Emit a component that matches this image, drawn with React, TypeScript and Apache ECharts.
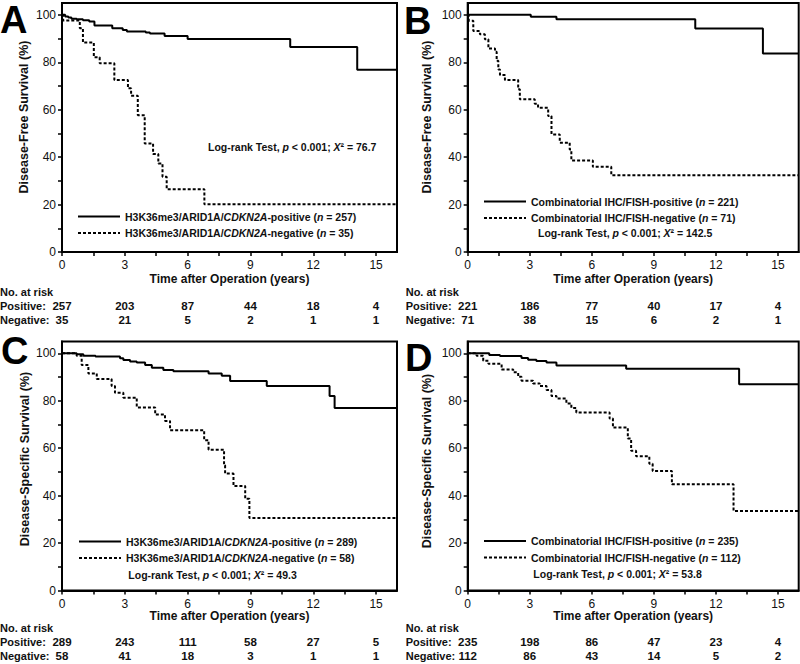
import React, { useEffect, useRef } from "react";
import * as echarts from "echarts";

// ---------- data ----------
const timeLabelTicks = [0, 3, 6, 9, 12, 15];
const timeTicks = [0, 1.5, 3, 4.5, 6, 7.5, 9, 10.5, 12, 13.5, 15];
const survLabelTicks = [0, 20, 40, 60, 80, 100];
const survTicks = [0, 10, 20, 30, 40, 50, 60, 70, 80, 90, 100];

const nameA1 = "H3K36me3/ARID1A/CDKN2A-positive (n = 257)";
const nameA2 = "H3K36me3/ARID1A/CDKN2A-negative (n = 35)";
const nameB1 = "Combinatorial IHC/FISH-positive (n = 221)";
const nameB2 = "Combinatorial IHC/FISH-negative (n = 71)";
const nameC1 = "H3K36me3/ARID1A/CDKN2A-positive (n = 289)";
const nameC2 = "H3K36me3/ARID1A/CDKN2A-negative (n = 58)";
const nameD1 = "Combinatorial IHC/FISH-positive (n = 235)";
const nameD2 = "Combinatorial IHC/FISH-negative (n = 112)";

const riskPosA = [257, 203, 87, 44, 18, 4];
const riskNegA = [35, 21, 5, 2, 1, 1];
const riskPosB = [221, 186, 77, 40, 17, 4];
const riskNegB = [71, 38, 15, 6, 2, 1];
const riskPosC = [289, 243, 111, 58, 27, 5];
const riskNegC = [58, 41, 18, 3, 1, 1];
const riskPosD = [235, 198, 86, 47, 23, 4];
const riskNegD = [112, 86, 43, 14, 5, 2];

const statA = "Log-rank Test, {i|p} < 0.001; {i|X}² = 76.7";
const statB = "Log-rank Test, {i|p} < 0.001; {i|X}² = 142.5";
const statC = "Log-rank Test, {i|p} < 0.001; {i|X}² = 49.3";
const statD = "Log-rank Test, {i|p} < 0.001; {i|X}² = 53.8";

// Kaplan–Meier steps: [time (years), survival % after the event]
const kmPosA = [
  [0, 100], [0.15, 99.3], [0.3, 98.9], [0.45, 98.4], [0.7, 98.1], [1.0, 97.7],
  [1.3, 97.2], [1.55, 95.5], [2.4, 94.3], [2.9, 93.6], [3.1, 93.0], [4.0, 92.6],
  [4.2, 92.1], [4.9, 91.1], [6.0, 89.8], [10.9, 86.4], [14.1, 76.8], [16, 76.8],
];
const kmNegA = [
  [0, 100], [0.05, 97.6], [0.85, 94.4], [1.0, 88.3], [1.52, 82.1], [1.8, 79.6],
  [2.5, 72.5], [3.15, 69.0], [3.3, 65.9], [3.62, 57.7], [3.95, 45.8], [4.35, 41.3],
  [4.6, 37.3], [4.8, 31.7], [5.0, 26.5], [6.8, 20.1], [16, 20.1],
];
const kmPosB = [
  [0, 100], [3.05, 99.2], [4.29, 98.2], [11.0, 94.2], [14.27, 83.7], [16, 83.7],
];
const kmNegB = [
  [0, 100], [0.05, 97.5], [0.27, 93.2], [0.59, 91.8], [0.83, 89.7], [1.0, 85.8],
  [1.32, 84.4], [1.4, 80.6], [1.48, 77.0], [1.56, 74.6], [1.8, 72.5], [2.44, 68.6],
  [2.52, 64.4], [3.24, 62.5], [3.4, 60.8], [3.89, 57.3], [4.05, 49.6], [4.45, 46.1],
  [4.93, 43.2], [5.01, 38.6], [6.05, 35.9], [6.94, 32.4], [16, 32.4],
];
const kmPosC = [
  [0, 100], [0.7, 99.6], [1.02, 99.0], [1.6, 98.7], [2.77, 97.9], [2.93, 97.2],
  [3.25, 96.6], [3.57, 96.1], [3.97, 95.1], [4.29, 93.9], [4.84, 93.0], [5.32, 92.5],
  [7.0, 91.5], [7.63, 90.6], [8.03, 88.3], [9.78, 86.2], [12.78, 82.0], [13.02, 77.0],
  [16, 77.0],
];
const kmNegC = [
  [0, 100], [0.7, 99.0], [0.94, 95.1], [1.26, 91.5], [1.66, 89.2], [2.37, 86.2],
  [2.53, 83.4], [2.93, 81.3], [3.57, 77.2], [4.45, 74.2], [4.92, 71.5], [5.16, 67.6],
  [6.79, 63.4], [7.0, 59.4], [7.74, 52.8], [7.79, 49.3], [8.19, 44.1], [8.75, 38.7],
  [8.95, 30.6], [16, 30.6],
];
const kmPosD = [
  [0, 100], [1.04, 99.3], [1.56, 98.9], [2.6, 98.0], [2.92, 97.3], [3.32, 96.8],
  [3.81, 96.1], [4.29, 94.9], [7.66, 93.5], [13.12, 87.0], [16, 87.0],
];
const kmNegD = [
  [0, 100], [0.43, 99.0], [0.75, 96.9], [1.0, 95.6], [1.64, 93.2], [2.2, 92.0],
  [2.44, 90.1], [2.6, 88.5], [3.16, 87.3], [3.48, 86.2], [3.81, 84.5], [4.05, 82.0],
  [4.29, 81.0], [4.77, 78.9], [5.01, 77.0], [5.25, 75.1], [6.86, 72.5], [7.02, 68.7],
  [7.74, 64.1], [7.9, 58.9], [8.14, 56.6], [8.78, 53.5], [8.94, 50.4], [9.87, 44.8],
  [12.85, 33.5], [16, 33.5],
];

// ---------- layout ----------
const FONT = '"Liberation Sans", Arial, Helvetica, sans-serif';
const INK = "#111";

type Panel = {
  letter: string;
  yTitle: string;
  names: [string, string];
  pos: number[][];
  neg: number[][];
  riskPos: number[];
  riskNeg: number[];
  stat: string;
  left: number;
  top: number;
  width: number;
  height: number;
  letterX: number;
  letterY: number;
  yTitleX: number;
  yTitleY: number;
  legendLeft: number;
  legendTop: number;
  statX: number;
  statY: number;
  rows: { title: number; noRisk: number; pos: number; neg: number };
};

const topRows = { title: 26.5, noRisk: 40, pos: 54, neg: 67.5 };
const botRows = { title: 25, noRisk: 37, pos: 51.5, neg: 65 };

const panels: Panel[] = [
  {
    letter: "A", yTitle: "Disease-Free Survival (%)", names: [nameA1, nameA2],
    pos: kmPosA, neg: kmNegA, riskPos: riskPosA, riskNeg: riskNegA, stat: statA,
    left: 62, top: 3, width: 335, height: 249,
    letterX: 0, letterY: 20, yTitleX: 24, yTitleY: 117,
    legendLeft: 77, legendTop: 210.5, statX: 208, statY: 146.7, rows: topRows,
  },
  {
    letter: "B", yTitle: "Disease-Free Survival (%)", names: [nameB1, nameB2],
    pos: kmPosB, neg: kmNegB, riskPos: riskPosB, riskNeg: riskNegB, stat: statB,
    left: 467.7, top: 3, width: 331, height: 249,
    letterX: 404, letterY: 21, yTitleX: 427, yTitleY: 117,
    legendLeft: 483, legendTop: 195.5, statX: 538, statY: 233.3, rows: topRows,
  },
  {
    letter: "C", yTitle: "Disease-Specific Survival (%)", names: [nameC1, nameC2],
    pos: kmPosC, neg: kmNegC, riskPos: riskPosC, riskNeg: riskNegC, stat: statC,
    left: 62, top: 341.5, width: 335, height: 249,
    letterX: 1, letterY: 351, yTitleX: 25, yTitleY: 459,
    legendLeft: 78, legendTop: 535.5, statX: 128.3, statY: 575, rows: botRows,
  },
  {
    letter: "D", yTitle: "Disease-Specific Survival (%)", names: [nameD1, nameD2],
    pos: kmPosD, neg: kmNegD, riskPos: riskPosD, riskNeg: riskNegD, stat: statD,
    left: 467.7, top: 341.5, width: 331, height: 249,
    letterX: 405, letterY: 358, yTitleX: 427, yTitleY: 461,
    legendLeft: 483, legendTop: 535, statX: 533.3, statY: 574.3, rows: botRows,
  },
];

const richItalic = {
  i: { fontStyle: "italic", fontWeight: "bold", fontSize: 10.5, fontFamily: FONT, color: INK },
};

function buildOption() {
  const grid: any[] = [];
  const xAxis: any[] = [];
  const yAxis: any[] = [];
  const series: any[] = [];
  const legend: any[] = [];
  const graphic: any[] = [];

  panels.forEach((p, i) => {
    grid.push({
      left: p.left, top: p.top, width: p.width, height: p.height,
      show: true, borderColor: "#000", borderWidth: 2, backgroundColor: "transparent",
    });
    const bottomY = p.top + p.height;
    // main time axis
    xAxis.push({
      gridIndex: i, type: "value", min: 0, max: 16,
      axisLine: { show: true, lineStyle: { color: "#000", width: 2 } },
      axisTick: { show: true, customValues: timeTicks, length: 4, lineStyle: { color: "#000", width: 1.5 } },
      axisLabel: {
        customValues: timeLabelTicks, margin: 7, fontSize: 12, color: INK, fontFamily: FONT,
      },
      splitLine: { show: false },
      name: "Time after Operation (years)", nameLocation: "middle", nameGap: p.rows.title - 6,
      nameTextStyle: { fontSize: 12, fontWeight: "bold", color: INK, fontFamily: FONT },
    });
    // risk table rows drawn on the same time scale
    const riskAxis = (vals: number[], offset: number) => ({
      gridIndex: i, type: "value", min: 0, max: 16, position: "bottom", offset,
      axisLine: { show: false }, axisTick: { show: false }, splitLine: { show: false },
      axisLabel: {
        customValues: timeLabelTicks, margin: 0, verticalAlign: "middle",
        fontSize: 11.5, fontWeight: "bold", color: INK, fontFamily: FONT,
        formatter: (v: number) => String(vals[timeLabelTicks.indexOf(v)] ?? ""),
      },
    });
    xAxis.push(riskAxis(p.riskPos, p.rows.pos));
    xAxis.push(riskAxis(p.riskNeg, p.rows.neg));

    yAxis.push({
      gridIndex: i, type: "value", min: 0, max: 105,
      axisLine: { show: true, lineStyle: { color: "#000", width: 2 } },
      axisTick: { show: true, customValues: survTicks, length: 4, lineStyle: { color: "#000", width: 1.5 } },
      axisLabel: { customValues: survLabelTicks, margin: 6, fontSize: 12, color: INK, fontFamily: FONT },
      splitLine: { show: false },
    });

    series.push({
      name: p.names[0], type: "line", xAxisIndex: i * 3, yAxisIndex: i,
      data: p.pos, step: "end", symbol: "none",
      lineStyle: { color: "#000", width: 2, type: "solid" }, itemStyle: { color: "#000" },
    });
    series.push({
      name: p.names[1], type: "line", xAxisIndex: i * 3, yAxisIndex: i,
      data: p.neg, step: "end", symbol: "none",
      lineStyle: { color: "#000", width: 2, type: [3, 2] }, itemStyle: { color: "#000" },
    });

    legend.push({
      data: p.names.map((n) => ({ name: n })), orient: "vertical",
      left: p.legendLeft, top: p.legendTop, padding: 0,
      itemWidth: 42, itemHeight: 12, itemGap: 4.6, itemTextGap: 8,
      selectedMode: false,
      itemStyle: { opacity: 0, color: "transparent", borderWidth: 0 },
      textStyle: {
        fontSize: 10.5, fontWeight: "bold", color: INK, fontFamily: FONT, lineHeight: 12,
        rich: richItalic,
      },
      formatter: (n: string) =>
        n.replace("CDKN2A", "{i|CDKN2A}").replace("(n =", "({i|n} ="),
    });

    graphic.push({
      type: "text", x: p.letterX, y: p.letterY,
      style: {
        text: p.letter, fontSize: 38, fontWeight: "bold", fontFamily: FONT, fill: "#000",
        textAlign: "left", textVerticalAlign: "middle",
      },
    });
    graphic.push({
      type: "text", x: p.yTitleX, y: p.yTitleY, rotation: Math.PI / 2,
      style: {
        text: p.yTitle, fontSize: 12.5, fontWeight: "bold", fontFamily: FONT, fill: INK,
        textAlign: "center", textVerticalAlign: "middle",
      },
    });
    graphic.push({
      type: "text", x: p.statX, y: p.statY,
      style: {
        text: p.stat, fontSize: 10.5, fontWeight: "bold", fontFamily: FONT, fill: INK,
        textAlign: "left", textVerticalAlign: "middle", rich: richItalic,
      },
    });
    const rowLeft = p.left - 62;
    [
      ["No. at risk", p.rows.noRisk],
      ["Positive:", p.rows.pos],
      ["Negative:", p.rows.neg],
    ].forEach(([t, dy]) => {
      graphic.push({
        type: "text", x: rowLeft, y: bottomY + (dy as number),
        style: {
          text: t as string, fontSize: 11, fontWeight: "bold", fontFamily: FONT, fill: INK,
          textAlign: "left", textVerticalAlign: "middle",
        },
      });
    });
  });

  return {
    animation: false,
    backgroundColor: "#fff",
    textStyle: { fontFamily: FONT },
    grid, xAxis, yAxis, series, legend, graphic,
  };
}

export default function App() {
  const ref = useRef<HTMLDivElement>(null);
  useEffect(() => {
    if (!ref.current) return;
    const chart = echarts.init(ref.current, undefined, { renderer: "svg" });
    chart.setOption(buildOption() as any);
    return () => chart.dispose();
  }, []);
  return (
    <div
      ref={ref}
      style={{ position: "fixed", left: 0, top: 0, width: 800, height: 664, background: "#fff" }}
    />
  );
}
